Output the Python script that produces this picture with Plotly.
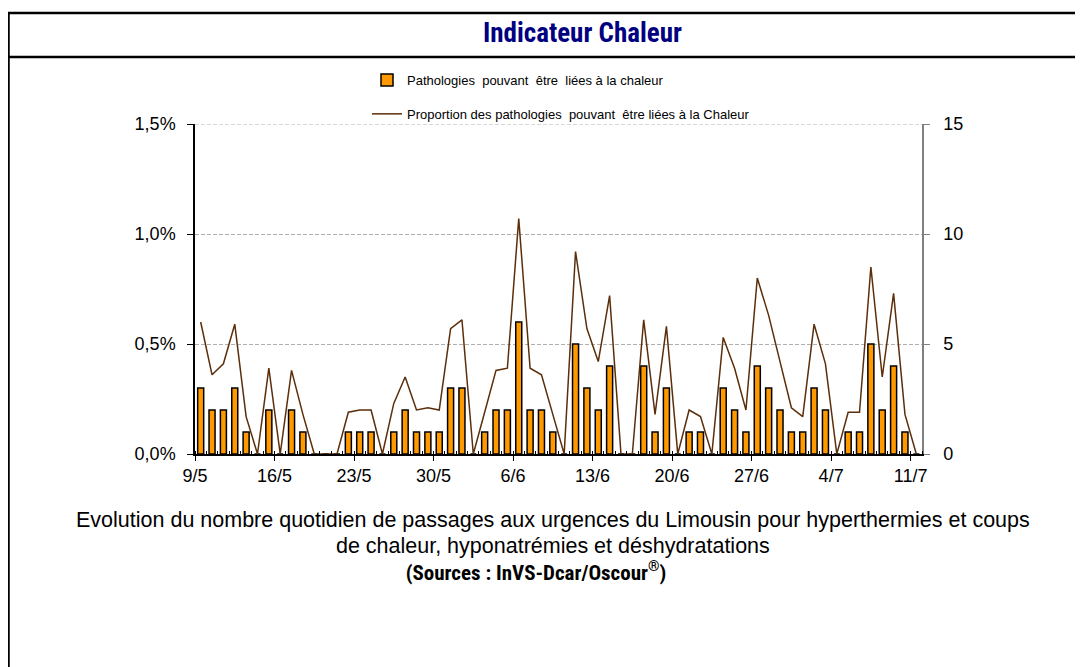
import numpy as np
import pandas as pd
import plotly.graph_objects as go

# Daily series, 9 May -> 11 July
dates = pd.date_range("2010-05-09", "2010-07-11", freq="D")
day_labels = [f"{d.day}/{d.month}" for d in dates]
day_index = np.arange(len(dates))

# number of emergency visits (right axis)
visits = [3, 2, 2, 3, 1, 0, 2, 0, 2, 1,
          0, 0, 0, 1, 1, 1, 0, 1, 2, 1,
          1, 1, 3, 3, 0, 1, 2, 2, 6, 2,
          2, 1, 0, 5, 3, 2, 4, 0, 0, 4,
          1, 3, 0, 1, 1, 0, 3, 2, 1, 4,
          3, 2, 1, 1, 3, 2, 0, 1, 1, 5,
          2, 4, 1, 0]

# proportion of all visits, in % (left axis)
proportion = [0.60, 0.36, 0.41, 0.59, 0.17, 0.00, 0.39, 0.00, 0.38, 0.18,
              0.00, 0.00, 0.00, 0.19, 0.20, 0.20, 0.00, 0.23, 0.35, 0.20,
              0.21, 0.20, 0.57, 0.61, 0.00, 0.19, 0.38, 0.39, 1.07, 0.39,
              0.36, 0.18, 0.00, 0.92, 0.57, 0.42, 0.72, 0.00, 0.00, 0.61,
              0.18, 0.58, 0.00, 0.20, 0.17, 0.00, 0.53, 0.39, 0.20, 0.80,
              0.63, 0.42, 0.21, 0.17, 0.59, 0.41, 0.00, 0.19, 0.19, 0.85,
              0.35, 0.73, 0.18, 0.00]

left_ticks = [0, 0.5, 1.0, 1.5]
left_labels = ["0,0%", "0,5%", "1,0%", "1,5%"]
right_ticks = [0, 5, 10, 15]

NB = "\u00a0"
bar_name = f"Pathologies{NB} pouvant{NB} être{NB} liées à la chaleur"
line_name = f"Proportion des pathologies{NB} pouvant{NB} être liées à la Chaleur"

caption_lines = [
    "Evolution du nombre quotidien de passages aux urgences du Limousin pour hyperthermies et coups",
    "de chaleur, hyponatrémies et déshydratations",
]
source_text = "(Sources : InVS-Dcar/Oscour<sup>®</sup>)"

ARIAL = "Liberation Sans, Arial, sans-serif"
NARROW = ("Liberation Sans Narrow, Arial Narrow, Noto Sans Condensed, "
          "Roboto Condensed, DejaVu Sans Condensed, Liberation Sans, sans-serif")

fig = go.Figure()

fig.add_trace(go.Bar(
    x=day_index, y=visits,
    name=bar_name,
    marker=dict(color="#FF9900", line=dict(color="black", width=1.5)),
    yaxis="y",
    legendgroup="a",
))

fig.add_trace(go.Scatter(
    x=day_index, y=proportion,
    name=line_name,
    mode="lines",
    line=dict(color="#5C2E0A", width=1.5),
    yaxis="y2",
    legendgroup="b",
))

# plot area in screen pixels: x 195..922, y 124..454
# (the page body adds an 8px offset, removed from the margins)
W, H = 1083, 667
OFF = 8
L, R, T, B = 195, 922, 124, 454


def px(X):
    return (X - L) / (R - L)


def py(Y):
    return (B - Y) / (B - T)


GRID = "#AFAFAF"

fig.update_layout(
    width=W, height=H,
    margin=dict(l=L - OFF, r=W - (R - OFF), t=T - OFF, b=H - (B - OFF), pad=0),
    paper_bgcolor="white",
    plot_bgcolor="white",
    bargap=0.47,
    font=dict(family=ARIAL, color="black"),
    showlegend=True,
    legend=dict(
        x=px(367), y=py(65), xanchor="left", yanchor="top",
        font=dict(size=13, family=ARIAL),
        bgcolor="rgba(0,0,0,0)",
        tracegroupgap=14,
        traceorder="grouped",
    ),
    xaxis=dict(
        range=[-0.5, len(dates) - 0.5],
        tickmode="array",
        tickvals=day_index[::7] - 0.5,
        ticktext=day_labels[::7],
        ticks="outside", ticklen=5, tickcolor="black",
        showline=True, linecolor="black", linewidth=1.5,
        showgrid=False, zeroline=False,
        tickfont=dict(size=18),
        minor=dict(tickmode="linear", tick0=-0.5, dtick=1,
                   ticks="inside", ticklen=3, tickcolor="black"),
    ),
    yaxis=dict(
        side="right",
        range=[0, 15],
        tickvals=right_ticks,
        ticks="outside", ticklen=6, tickcolor="#808080",
        showline=True, linecolor="#808080", linewidth=1.5,
        showgrid=True, gridcolor=GRID, griddash="4px,2px", gridwidth=1,
        zeroline=False,
        tickfont=dict(size=18),
        ticklabelstandoff=10,
    ),
    yaxis2=dict(
        overlaying="y", side="left",
        range=[0, 1.5],
        tickvals=left_ticks, ticktext=left_labels,
        ticks="outside", ticklen=6, tickcolor="black",
        showline=True, linecolor="black", linewidth=1.5,
        showgrid=False, zeroline=False,
        tickfont=dict(size=18),
        ticklabelstandoff=8,
    ),
)

# top gridline (at the axis maximum)
fig.add_shape(type="line", xref="paper", yref="y",
              x0=0, x1=1, y0=right_ticks[-1], y1=right_ticks[-1],
              line=dict(color=GRID, width=1, dash="4px,2px"), layer="below")

# frame around the panel and header separator
fig.add_shape(type="rect", xref="paper", yref="paper",
              x0=px(8.5), x1=px(1080), y0=py(700), y1=py(13),
              line=dict(color="black", width=2.5), layer="below")
fig.add_shape(type="line", xref="paper", yref="paper",
              x0=px(8.5), x1=px(1080), y0=py(57), y1=py(57),
              line=dict(color="black", width=2.5), layer="below")

fig.add_annotation(
    text="Indicateur Chaleur", xref="paper", yref="paper",
    x=px(582), y=py(33), xanchor="center", yanchor="middle",
    showarrow=False,
    font=dict(family=NARROW, size=27, color="#000080", weight="bold"),
)

# caption: one text block, line height driven by the base font size
caption = "<br>".join(
    [f"<span style='font-size:21.5px;font-family:Liberation Sans'>{t}</span>"
     for t in caption_lines]
    + [f"<span style='font-size:21px'><b>{source_text}</b>{NB * 7}</span>"]
)
fig.add_annotation(
    text=caption,
    xref="paper", yref="paper", x=px(553), y=py(546),
    xanchor="center", yanchor="middle", align="center", showarrow=False,
    font=dict(family=NARROW, size=20.2, color="black"),
)

fig.write_html("out.html")
